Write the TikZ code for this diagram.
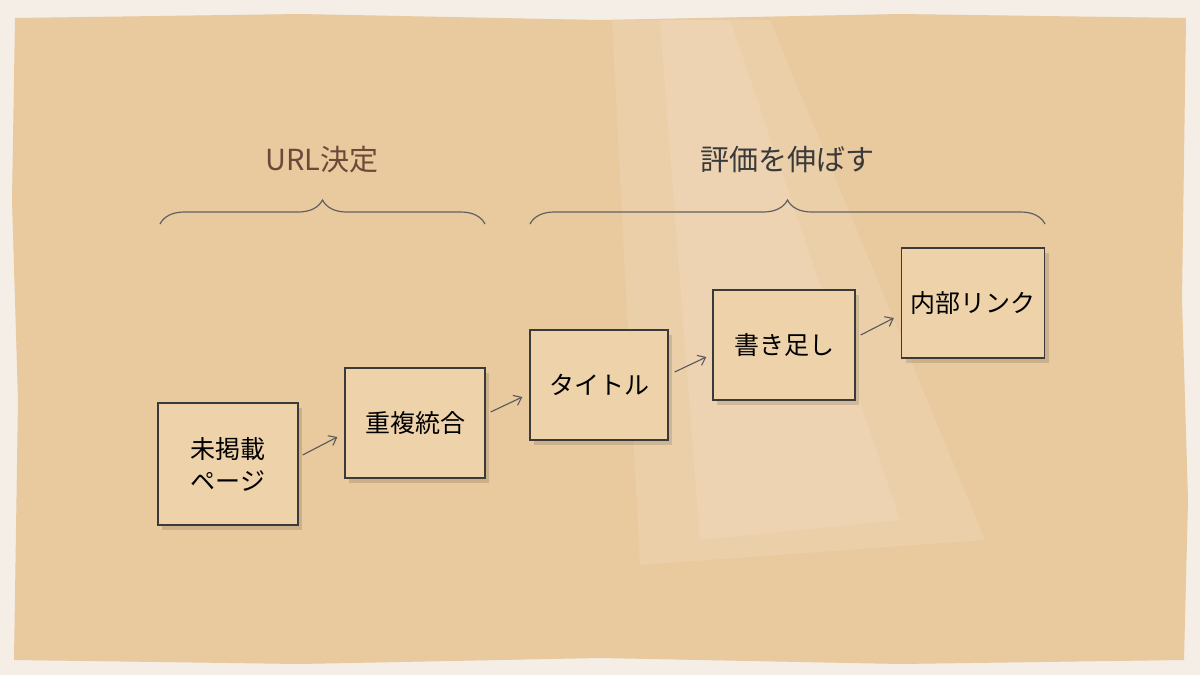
\documentclass[tikz,border=0pt]{standalone}
\usepackage{fontspec}
\setmainfont{Noto Sans CJK JP}
\usetikzlibrary{decorations.pathreplacing,arrows.meta}
\definecolor{outer}{HTML}{F4EEE6}
\definecolor{paper}{HTML}{E9C99E}
\definecolor{boxfill}{HTML}{EDD2AA}
\definecolor{ink}{HTML}{3A3A3A}
\definecolor{brownlab}{HTML}{6B4A3A}
\begin{document}
\begin{tikzpicture}[x=1pt,y=-1pt,
  box/.style={draw=ink,line width=1.3pt,fill=boxfill,minimum width=140pt,minimum height=110pt,inner sep=0pt,align=center,font=\fontsize{25}{32}\selectfont,text=black},
  arr/.style={draw=ink!85,line width=1.1pt,-{Straight Barb[length=7pt,width=11pt]}},
  br/.style={draw=ink!80,line width=1.2pt,decorate,decoration={brace,amplitude=24pt}},
  lab/.style={font=\fontsize{29}{32}\selectfont}]
\useasboundingbox (0,0) rectangle (1200,675);
\fill[outer] (0,0) rectangle (1200,675);
\fill[paper] (15,18) -- (300,14) -- (600,20) -- (900,14) -- (1186,18) -- (1182,300) -- (1188,500) -- (1184,660) -- (900,664) -- (600,658) -- (300,664) -- (14,660) -- (18,400) -- (12,200) -- cycle;
\fill[white,opacity=0.12] (612,20) -- (770,20) -- (985,540) -- (640,565) -- cycle;
\fill[white,opacity=0.10] (660,20) -- (730,20) -- (900,520) -- (700,540) -- cycle;
\foreach \x/\y/\w/\h in {158/403/140/122, 345/368/140/110, 530/330/138/110, 713/290/142/110, 902/248/143/110}
  \fill[black,opacity=0.12] (\x+4,\y+5) rectangle (\x+\w+4,\y+\h+5);
\node[box,minimum width=140pt,minimum height=122pt] (a) at (228,464) {未掲載\\ページ};
\node[box] (b) at (415,423) {重複統合};
\node[box,minimum width=138pt] (c) at (599,385) {タイトル};
\node[box,minimum width=142pt] (d) at (784,345) {書き足し};
\node[box,minimum width=143pt] (e) at (973,303) {内部リンク};
\draw[arr] ([xshift=4pt,yshift=9pt]a.east) -- ([xshift=-7pt,yshift=-14pt]b.west);
\draw[arr] ([xshift=5pt,yshift=11pt]b.east) -- ([xshift=-7pt,yshift=-12pt]c.west);
\draw[arr] ([xshift=6pt,yshift=13pt]c.east) -- ([xshift=-6pt,yshift=-12pt]d.west);
\draw[arr] ([xshift=5pt,yshift=10pt]d.east) -- ([xshift=-7pt,yshift=-15pt]e.west);
\coordinate (b1l) at (160,224); \coordinate (b1r) at (485,224);
\coordinate (b2l) at (530,224); \coordinate (b2r) at (1045,224);
\draw[br] (b1l) -- (b1r);
\draw[br] (b2l) -- (b2r);
\node[lab,text=brownlab] (l1) at (322,160) {URL決定};
\node[lab,text=ink] (l2) at (787,160) {評価を伸ばす};
\end{tikzpicture}
\end{document}
